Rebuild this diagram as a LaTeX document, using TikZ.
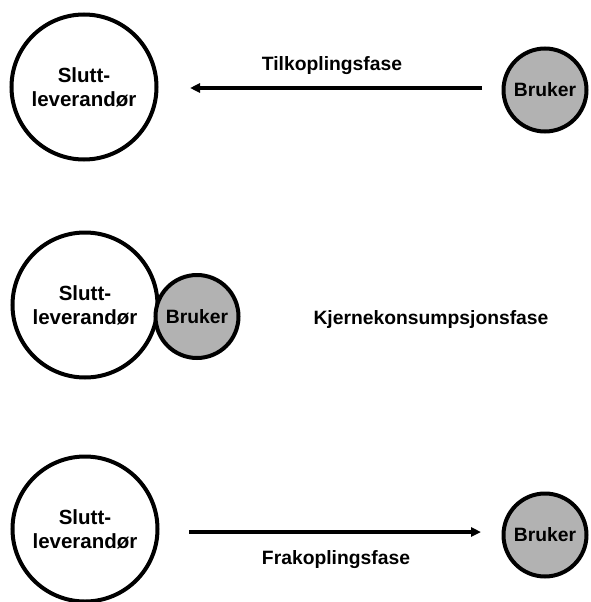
\documentclass[tikz,border=0pt]{standalone}
\usepackage{fontspec}
\setmainfont{Liberation Sans}
\usetikzlibrary{arrows.meta}
\begin{document}
\begin{tikzpicture}[x=1pt,y=-1pt,
  supplier/.style={circle,draw=black,line width=4pt,fill=white,minimum size=145pt,inner sep=0pt,
    align=center,font=\fontsize{20.5}{24}\selectfont\bfseries},
  user/.style={circle,draw=black,line width=4pt,fill=black!30,minimum size=83pt,inner sep=0pt,
    font=\fontsize{19.3}{22}\selectfont\bfseries},
  phase/.style={font=\fontsize{19.3}{22}\selectfont\bfseries},
  flow/.style={line width=3.5pt,-{Stealth[length=10pt,width=9pt,inset=0pt]}}]
\useasboundingbox (0,0) rectangle (590,602);

% connection phase
\node[supplier] (s1) at (84,87) {Slutt-\\leverandør};
\node[user] (u1) at (545,90) {Bruker};
\coordinate (a1s) at (482,88);
\coordinate (a1e) at (190,88);
\draw[flow] (a1s) -- (a1e);
\node[phase] (p1) at (332,66) {Tilkoplingsfase};

% core consumption phase
\node[supplier] (s2) at (85,305) {Slutt-\\leverandør};
\node[user] (u2) at (197,316.5) {Bruker};
\node[phase] (p2) at (431,320) {Kjernekonsumpsjonsfase};

% disconnection phase
\node[supplier] (s3) at (85,529) {Slutt-\\leverandør};
\node[user] (u3) at (545,535) {Bruker};
\coordinate (a3s) at (189,532);
\coordinate (a3e) at (481,532);
\draw[flow] (a3s) -- (a3e);
\node[phase] (p3) at (336,560) {Frakoplingsfase};
\end{tikzpicture}
\end{document}
